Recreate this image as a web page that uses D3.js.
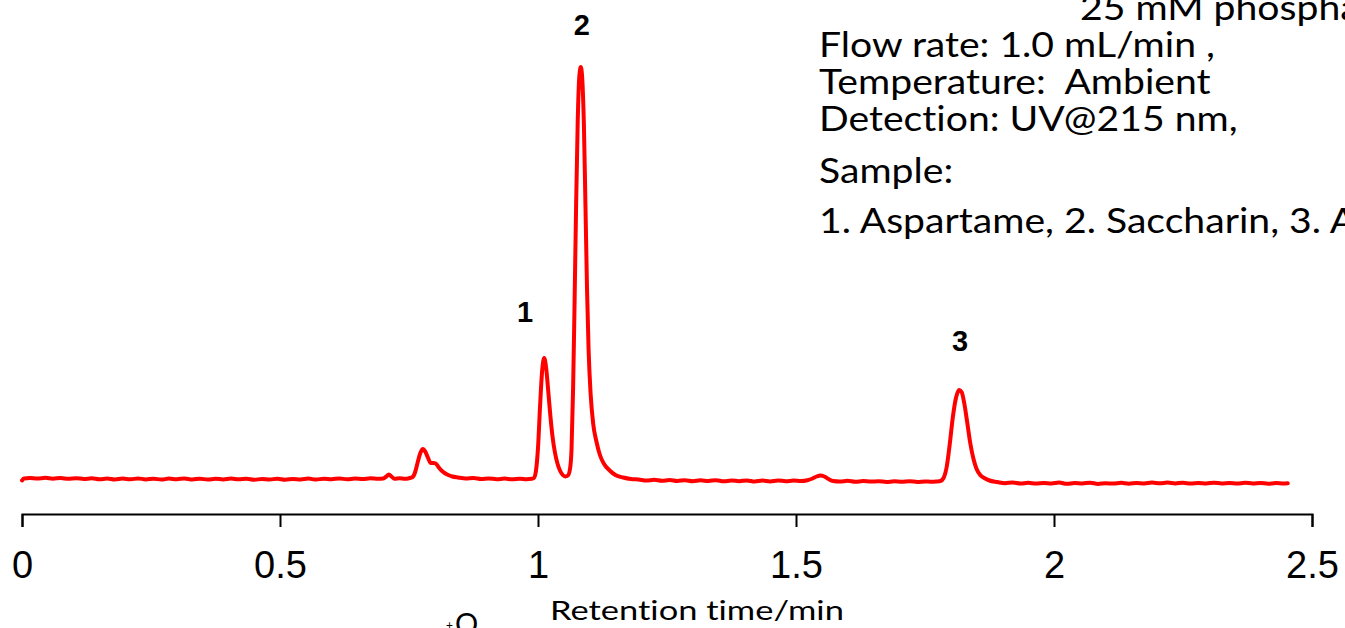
<!DOCTYPE html>
<html>
<head>
<meta charset="utf-8">
<script src="https://cdn.jsdelivr.net/npm/d3@7"></script>
<style>
  body { margin: 0; background: #fff; overflow: hidden; }
  svg { display: block; }
  text { font-variant-ligatures: none; white-space: pre; }
</style>
</head>
<body>
<svg id="chart" width="1345" height="628"></svg>
<script>
// retention time (min), detector signal (arbitrary units, baseline ~0)
var chromatogram = [
  [0.000, -1.5], [0.004, 0.5], [0.015, 1], [0.030, 0.5], [0.045, 1.2], [0.060, 0.3], [0.075, 1],
  [0.090, 0.2], [0.105, 0.8], [0.120, 0], [0.135, 0.7], [0.150, -0.3], [0.165, 0.5], [0.180, -0.5],
  [0.195, 0.4], [0.210, -0.3], [0.225, 0.6], [0.240, -0.4], [0.255, 0.3], [0.270, -0.6], [0.285, 0.4],
  [0.300, -0.2], [0.315, 0.6], [0.330, -0.5], [0.345, 0.3], [0.360, -0.6], [0.375, 0.2], [0.390, -0.4],
  [0.405, 0.5], [0.420, -0.3], [0.435, 0.2], [0.450, -0.8], [0.465, 0.1], [0.480, -0.6], [0.495, 0.3],
  [0.510, -0.7], [0.525, 0], [0.540, -0.5], [0.555, 0.4], [0.570, -0.6], [0.585, 0.3], [0.600, -0.2],
  [0.615, 0.6], [0.630, -0.3], [0.645, 0.5], [0.660, 0], [0.675, 0.7], [0.690, 0.2], [0.700, 0.6],
  [0.706, 2.5], [0.711, 4.5], [0.716, 2.5], [0.722, 0.3], [0.732, 0.8], [0.742, 0.2], [0.750, 0.8],
  [0.757, 2], [0.762, 7], [0.767, 17], [0.772, 26], [0.777, 30], [0.782, 27], [0.787, 21],
  [0.792, 16], [0.797, 16], [0.802, 15.5], [0.807, 12], [0.813, 8.5], [0.819, 6], [0.826, 4],
  [0.834, 2.5], [0.845, 1.5], [0.860, 0.5], [0.875, 1], [0.890, 0], [0.905, 0.6], [0.920, -0.2],
  [0.935, 0.4], [0.950, -0.3], [0.965, 0.3], [0.978, -0.2], [0.988, 0.2],
  // peak 1
  [0.992, 1], [0.996, 8], [1.000, 31], [1.004, 73], [1.008, 108], [1.012, 121], [1.016, 110],
  [1.020, 87], [1.024, 63], [1.028, 43], [1.033, 26], [1.038, 15], [1.043, 8], [1.048, 4],
  [1.053, 2.5], [1.058, 3.5],
  // peak 2
  [1.062, 10], [1.065, 30], [1.068, 90], [1.071, 180], [1.074, 278], [1.077, 358], [1.080, 402],
  [1.083, 412], [1.086, 398], [1.089, 353], [1.092, 273], [1.095, 190], [1.098, 130], [1.102, 85],
  [1.107, 55], [1.113, 38], [1.120, 24], [1.128, 15], [1.138, 9], [1.150, 4], [1.165, 1.5], [1.180, 0],
  [1.195, -0.5], [1.210, -1.5], [1.225, -0.8], [1.240, -1.8], [1.255, -1], [1.270, -2], [1.285, -1.2],
  [1.300, -2.2], [1.315, -1.3], [1.330, -2], [1.345, -1.2], [1.360, -2.3], [1.375, -1.5], [1.390, -2.2],
  [1.405, -1.4], [1.420, -2.5], [1.435, -1.6], [1.450, -2.4], [1.465, -1.5], [1.480, -2.2], [1.495, -1.6],
  [1.510, -2], [1.522, -1.2], [1.532, 0.5], [1.540, 2.5], [1.547, 3.5], [1.555, 2.5], [1.563, 0],
  [1.572, -2], [1.585, -2.5], [1.600, -1.8], [1.615, -2.8], [1.630, -2], [1.645, -2.6], [1.660, -2.2],
  [1.675, -3], [1.690, -2.3], [1.705, -2.8], [1.720, -2.2], [1.735, -3], [1.750, -2.4], [1.762, -2.8],
  [1.772, -2.5], [1.780, -2], [1.786, 1],
  // peak 3
  [1.792, 12], [1.798, 35], [1.804, 62], [1.810, 81], [1.816, 89], [1.821, 87], [1.826, 76],
  [1.832, 56], [1.838, 35], [1.844, 20], [1.850, 10], [1.857, 4], [1.865, 1], [1.875, -1.5], [1.890, -3],
  [1.905, -4.2], [1.920, -3.5], [1.935, -4.5], [1.950, -3.8], [1.965, -4.6], [1.980, -3.9], [1.995, -4.4],
  [2.010, -3.6], [2.025, -4.8], [2.040, -4], [2.055, -4.5], [2.070, -3.7], [2.085, -4.9], [2.100, -4.2],
  [2.115, -4.6], [2.130, -3.8], [2.145, -4.7], [2.160, -4], [2.175, -4.5], [2.190, -3.6], [2.205, -4.3],
  [2.220, -3.5], [2.235, -4.4], [2.250, -3.8], [2.265, -4.6], [2.280, -3.9], [2.295, -4.5], [2.310, -3.7],
  [2.325, -4.4], [2.340, -4], [2.355, -4.6], [2.370, -3.8], [2.385, -4.4], [2.400, -3.9], [2.415, -4.7],
  [2.430, -4.1], [2.445, -4.5], [2.453, -4.3]
];

var xTicks = [0, 0.5, 1, 1.5, 2, 2.5];

// peak number, label anchor (retention time, signal)
var peakLabels = [
  {name: '1', t: 0.975, v: 157},
  {name: '2', t: 1.085, v: 444},
  {name: '3', t: 1.818, v: 128}
];

var conditions = [
  'Flow rate: 1.0 mL/min ,',
  'Temperature:  Ambient',
  'Detection: UV@215 nm,',
  'Sample:',
  '1. Aspartame, 2. Saccharin, 3. Acesulfame K'
];
var bufferLine = '25 mM phosphate buffer';
var xTitle = 'Retention time/min';

var svg = d3.select('#chart');
svg.append('rect').attr('width', 1345).attr('height', 628).style('fill', '#fff');

var x = d3.scaleLinear().domain([0, 2.5]).range([22, 1312]);
var y = d3.scaleLinear().domain([0, 412]).range([479, 67]);

// axis
var axisG = svg.append('g')
  .attr('transform', 'translate(0,514)')
  .call(d3.axisBottom(x)
    .tickValues(xTicks)
    .tickSize(13)
    .tickSizeOuter(13)
    .tickFormat(d3.format('')));

axisG.select('.domain').style('stroke', '#000').style('stroke-width', 2);
axisG.selectAll('.tick line').style('stroke', '#000').style('stroke-width', 2);
axisG.selectAll('.tick text')
  .attr('y', 64)
  .attr('dy', 0)
  .style('font-family', '"Liberation Sans", Arial, sans-serif')
  .style('font-size', '38px')
  .style('fill', '#000');

// trace
var line = d3.line()
  .x(function(d){ return x(d[0]); })
  .y(function(d){ return y(d[1]); })
  .curve(d3.curveMonotoneX);

svg.append('path')
  .datum(chromatogram)
  .attr('d', line)
  .style('fill', 'none')
  .style('stroke', '#ff0000')
  .style('stroke-width', 4)
  .style('stroke-linejoin', 'round')
  .style('stroke-linecap', 'round');

// peak numbers
svg.selectAll('.peak-label')
  .data(peakLabels)
  .enter().append('text')
  .attr('class', 'peak-label')
  .attr('x', function(d){ return x(d.t); })
  .attr('y', function(d){ return y(d.v); })
  .attr('text-anchor', 'middle')
  .style('font-family', '"Liberation Sans", Arial, sans-serif')
  .style('font-weight', 'bold')
  .style('font-size', '29px')
  .style('fill', '#000')
  .text(function(d){ return d.name; });

// conditions text, stretched horizontally like the source
var condG = svg.append('g');
var condFont = 'Lato, "Open Sans", sans-serif';
var lineY = [57, 94, 131, 183, 233];

var condText = condG.selectAll('.cond')
  .data(conditions)
  .enter().append('text')
  .attr('class', 'cond')
  .attr('x', 0)
  .attr('y', function(d, i){ return lineY[i]; })
  .attr('xml:space', 'preserve')
  .style('font-family', condFont)
  .style('font-size', '34px')
  .style('fill', '#000')
  .text(function(d){ return d; });

var sx = 396 / condText.node().getComputedTextLength();
condG.attr('transform', 'translate(819,0) scale(' + sx + ',1)');

condG.append('text')
  .attr('x', (1080 - 819) / sx)
  .attr('y', 20)
  .style('font-family', condFont)
  .style('font-size', '34px')
  .style('fill', '#000')
  .text(bufferLine);

// x axis title
var titleG = svg.append('g');
var title = titleG.append('text')
  .attr('x', 0)
  .attr('y', 620)
  .style('font-family', condFont)
  .style('font-size', '27px')
  .style('fill', '#000')
  .text(xTitle);
var tsx = 294 / title.node().getComputedTextLength();
titleG.attr('transform', 'translate(550,0) scale(' + tsx + ',1)');

// clipped fragment of a structure drawing below the axis
svg.append('text')
  .attr('x', 455)
  .attr('y', 634)
  .style('font-family', condFont)
  .style('font-size', '29px')
  .style('fill', '#000')
  .text('O');
svg.append('text')
  .attr('x', 446)
  .attr('y', 629)
  .style('font-family', condFont)
  .style('font-size', '12px')
  .style('fill', '#000')
  .text('+');
</script>
</body>
</html>
